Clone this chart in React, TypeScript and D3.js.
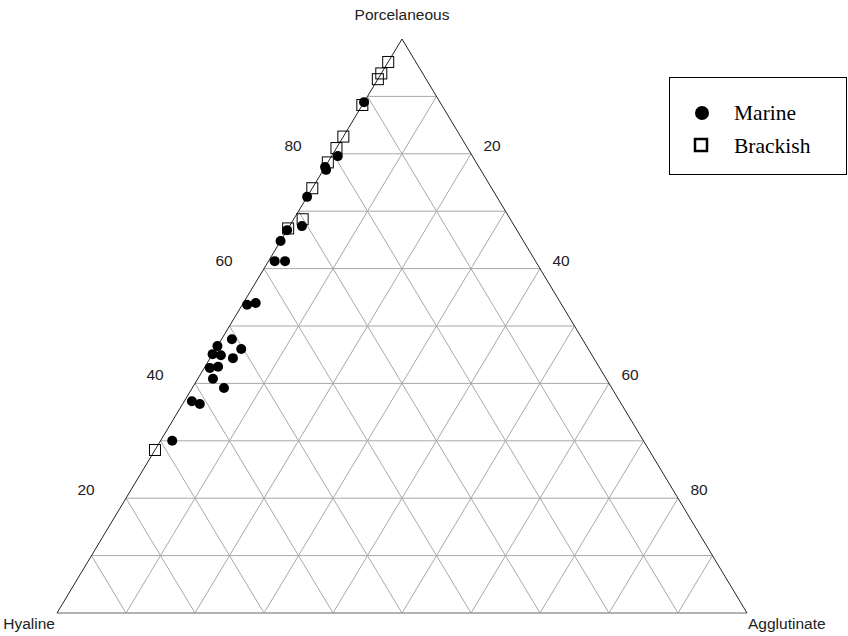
import React, { useEffect, useRef } from "react";
import * as d3 from "d3";

// [hyaline, porcelaneous, agglutinate] in %
const marine = [
  [11, 89, 0], [19.5, 79.6, 0.9], [22.3, 77.7, 0], [22.4, 77.2, 0.4],
  [27.5, 72.5, 0], [30.8, 67.4, 1.8], [33.3, 66.7, 0], [35.2, 64.8, 0],
  [37.8, 61.3, 0.9], [36.3, 61.3, 2.4], [45.6, 53.7, 0.7], [44.2, 54.0, 1.8],
  [50.8, 47.7, 1.5], [50.3, 46.0, 3.7], [53.5, 46.5, 0], [54.9, 45.1, 0],
  [53.8, 44.9, 1.3], [52.3, 44.4, 3.3], [56.5, 42.7, 0.8], [55.2, 42.9, 1.9],
  [57.0, 40.8, 2.2], [56.2, 39.2, 4.6], [62.0, 36.9, 1.1], [61.1, 36.4, 2.5],
  [68.3, 30.0, 1.7],
];

const brackish = [
  [4, 96, 0], [6, 94, 0], [7, 93, 0], [11.5, 88.5, 0], [17, 83, 0],
  [19, 81, 0], [21.5, 78.5, 0], [26, 74, 0], [30.1, 68.6, 1.3],
  [33, 67, 0], [71.6, 28.4, 0],
];

const gridSteps = [10, 20, 30, 40, 50, 60, 70, 80, 90];
const tickLabels = [20, 40, 60, 80];
const legendItems = ["Marine", "Brackish"];

const App = () => {
  const ref = useRef<SVGSVGElement>(null);

  useEffect(() => {
    const svg = d3.select(ref.current);
    svg.selectAll("*").remove();

    // baseline (agglutinate + porcelaneous/2) -> x ; porcelaneous -> y
    const bx = d3.scaleLinear().domain([0, 100]).range([57, 747]);
    const py = d3.scaleLinear().domain([0, 100]).range([613, 39]);
    const proj = (p: number, a: number) => [bx(a + p / 2), py(p)];

    const font = "'Liberation Sans', Arial, sans-serif";

    const grid = svg.append("g").attr("stroke", "#a8a8a8").attr("stroke-width", 1);
    gridSteps.forEach((v) => {
      // porcelaneous constant
      let a = proj(v, 0), b = proj(v, 100 - v);
      grid.append("line").attr("x1", a[0]).attr("y1", a[1]).attr("x2", b[0]).attr("y2", b[1]);
      // agglutinate constant
      a = proj(0, v); b = proj(100 - v, v);
      grid.append("line").attr("x1", a[0]).attr("y1", a[1]).attr("x2", b[0]).attr("y2", b[1]);
      // hyaline constant
      a = proj(0, 100 - v); b = proj(100 - v, 0);
      grid.append("line").attr("x1", a[0]).attr("y1", a[1]).attr("x2", b[0]).attr("y2", b[1]);
    });

    const L = proj(0, 0), T = proj(100, 0), R = proj(0, 100);
    svg.append("line").attr("x1", L[0]).attr("y1", L[1]).attr("x2", R[0]).attr("y2", R[1])
      .attr("stroke", "#999").attr("stroke-width", 1.5);
    svg.append("path")
      .attr("d", `M${L[0]},${L[1]}L${T[0]},${T[1]}L${R[0]},${R[1]}`)
      .attr("fill", "none").attr("stroke", "#222").attr("stroke-width", 1);

    const labels = svg.append("g").style("font", `15.5px ${font}`).attr("fill", "#222");
    tickLabels.forEach((v) => {
      const l = proj(v, 0);
      labels.append("text").attr("x", l[0] - 40).attr("y", l[1] - 3)
        .attr("text-anchor", "middle").text(v);
      const r = proj(100 - v, v);
      labels.append("text").attr("x", r[0] + 21).attr("y", r[1] - 3)
        .attr("text-anchor", "middle").text(v);
    });
    labels.append("text").attr("x", T[0]).attr("y", 20).attr("text-anchor", "middle").text("Porcelaneous");
    labels.append("text").attr("x", L[0] - 2).attr("y", 629).attr("text-anchor", "end").text("Hyaline");
    labels.append("text").attr("x", R[0] + 1).attr("y", 629).attr("text-anchor", "start").text("Agglutinate");

    svg.append("g").selectAll("circle").data(marine).join("circle")
      .attr("cx", (d) => proj(d[1], d[2])[0])
      .attr("cy", (d) => proj(d[1], d[2])[1])
      .attr("r", 5).attr("fill", "#000");

    svg.append("g").selectAll("rect").data(brackish).join("rect")
      .attr("x", (d) => proj(d[1], d[2])[0] - 5.5)
      .attr("y", (d) => proj(d[1], d[2])[1] - 5.5)
      .attr("width", 11).attr("height", 11)
      .attr("fill", "none").attr("stroke", "#000").attr("stroke-width", 1);

    // legend
    const lg = svg.append("g");
    lg.append("rect").attr("x", 669.5).attr("y", 77.5).attr("width", 177).attr("height", 97)
      .attr("fill", "#fff").attr("stroke", "#000").attr("stroke-width", 1);
    lg.append("circle").attr("cx", 702).attr("cy", 113).attr("r", 7).attr("fill", "#000");
    lg.append("rect").attr("x", 695).attr("y", 139).attr("width", 12).attr("height", 12)
      .attr("fill", "none").attr("stroke", "#000").attr("stroke-width", 2.5);
    lg.selectAll("text").data(legendItems).join("text")
      .attr("x", 734).attr("y", (d, i) => 120 + i * 33)
      .style("font", "21.5px 'Liberation Serif', 'Times New Roman', serif")
      .attr("fill", "#000")
      .text((d) => d);
  }, []);

  return (
    <svg
      ref={ref}
      width={848}
      height={636}
      style={{ position: "absolute", left: 0, top: 0, background: "#fff" }}
    />
  );
};

export default App;
